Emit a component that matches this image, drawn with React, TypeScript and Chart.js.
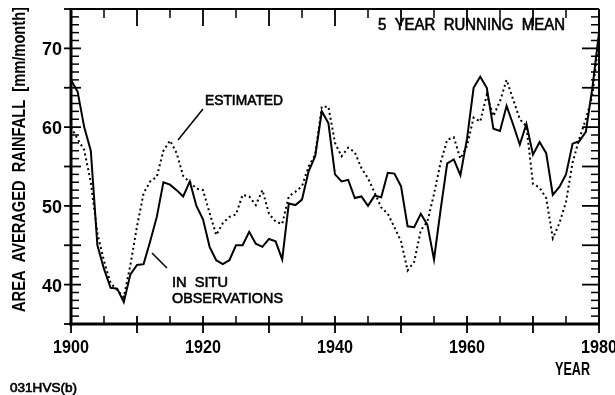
import React, { useEffect, useRef } from "react";
import { Chart, registerables } from "chart.js";

Chart.register(...registerables);

// ---- data ----
const startYear = 1900;
const endYear = 1980;

const inSitu: number[] = [
  66.0, 64.5, 60.0, 57.0, 45.0, 42.0, 39.6, 39.5, 37.8, 41.3,
  42.5, 42.6, 45.5, 48.6, 53.0, 52.7, 52.0, 51.2, 53.1, 50.0,
  48.3, 44.8, 43.1, 42.6, 43.1, 45.0, 45.0, 46.7, 45.2, 44.8,
  45.8, 45.5, 43.2, 50.3, 50.1, 50.8, 54.4, 56.3, 62.0, 60.5,
  54.0, 53.1, 53.3, 51.0, 51.2, 50.0, 51.3, 51.1, 54.2, 54.1,
  52.5, 47.4, 47.3, 49.0, 47.6, 43.2, 49.5, 55.4, 55.9, 53.9,
  58.5, 65.0, 66.4, 65.0, 59.8, 59.5, 62.7, 60.3, 57.8, 60.4,
  56.5, 58.1, 56.7, 51.4, 52.4, 54.0, 57.9, 58.2, 59.4, 65.0,
  72.0,
];

const estimated: number[] = [
  60.0, 58.5, 57.1, 53.0, 46.5, 43.0, 40.2, 39.3, 38.4, 42.5,
  47.4, 51.6, 53.1, 53.7, 57.0, 58.3, 56.7, 53.8, 53.0, 52.2,
  52.0, 49.1, 46.3, 47.8, 48.6, 48.9, 51.4, 51.2, 50.1, 52.0,
  49.0, 48.0, 47.7, 51.2, 51.8, 52.5, 55.0, 56.5, 62.6, 62.6,
  58.0, 56.3, 57.4, 56.8, 54.8, 53.5, 51.7, 49.8, 49.0, 47.3,
  45.5, 41.8, 42.9, 46.9, 48.0, 51.5, 55.5, 58.4, 58.7, 56.0,
  57.6, 61.2, 60.7, 64.1, 61.4, 63.3, 66.0, 63.5, 61.0, 60.1,
  52.8, 52.3, 51.0, 45.9, 47.8, 50.5, 55.5, 58.5, 61.0, 64.0,
  71.5,
];

const xTickLabels = ["1900", "1920", "1940", "1960", "1980"];
const yTickLabels = ["40", "50", "60", "70"];
const yMin = 35;
const yMax = 75;

const years: number[] = [];
for (let y = startYear; y <= endYear; y++) years.push(y);

const FONT = '"Liberation Sans", Arial, Helvetica, sans-serif';

function drawText(
  ctx: CanvasRenderingContext2D,
  s: string,
  x: number,
  y: number,
  size: number,
  bold: boolean,
  width: number,
  align: CanvasTextAlign = "left",
  rotate = false
) {
  ctx.save();
  ctx.font = `${bold ? "bold " : ""}${size}px ${FONT}`;
  const w = ctx.measureText(s).width;
  const sx = width ? width / w : 1;
  ctx.translate(x, y);
  if (rotate) ctx.rotate(-Math.PI / 2);
  ctx.scale(sx, 1);
  ctx.textAlign = align;
  ctx.textBaseline = "alphabetic";
  ctx.fillStyle = "#000";
  ctx.fillText(s, 0, 0);
  if (!bold) {
    ctx.strokeStyle = "#000";
    ctx.lineWidth = 0.6;
    ctx.strokeText(s, 0, 0);
  }
  ctx.restore();
}

function line(ctx: CanvasRenderingContext2D, x1: number, y1: number, x2: number, y2: number, w: number) {
  ctx.beginPath();
  ctx.lineWidth = w;
  ctx.moveTo(x1, y1);
  ctx.lineTo(x2, y2);
  ctx.stroke();
}

const decorPlugin = {
  id: "decor",
  afterDraw(chart: any) {
    const ctx: CanvasRenderingContext2D = chart.ctx;
    const xs = chart.scales.x;
    const ys = chart.scales.y;
    const { left, right, top, bottom } = chart.chartArea;
    ctx.save();
    ctx.strokeStyle = "#000";
    ctx.lineCap = "butt";

    // frame
    line(ctx, left, top - 1, left, bottom + 1.5, 3);
    line(ctx, left - 1.5, bottom, right + 1, bottom, 3);
    line(ctx, left, top, right, top, 2);
    line(ctx, right, top, right, bottom, 2);

    // y ticks (left & right)
    for (let v = yMin; v <= yMax; v++) {
      const py = ys.getPixelForValue(v);
      const major = v % 5 === 0;
      if (major) {
        line(ctx, left - 7, py, left + 10, py, 1.8);
        line(ctx, right - 17, py, right, py, 1.8);
      } else {
        line(ctx, left, py, left + 8, py, 1.5);
        line(ctx, right - 8, py, right, py, 1.5);
      }
    }
    // x ticks (bottom & top)
    for (let yr = startYear; yr <= endYear; yr += 5) {
      const px = xs.getPixelForValue(yr);
      const major = yr % 10 === 0;
      if (major) {
        line(ctx, px, bottom - 8, px, bottom + 9, 1.8);
        line(ctx, px, top, px, top + 17, 1.8);
      } else {
        line(ctx, px, bottom - 8, px, bottom, 1.5);
        line(ctx, px, top, px, top + 9, 1.5);
      }
    }

    // tick labels
    yTickLabels.forEach((t) => {
      const py = ys.getPixelForValue(Number(t));
      drawText(ctx, t, 62, py + 7, 18, true, 20, "right");
    });
    xTickLabels.forEach((t) => {
      const px = xs.getPixelForValue(Number(t));
      drawText(ctx, t, px, 353, 18, true, 36, "center");
    });

    // axis titles
    drawText(ctx, "YEAR", 590, 375, 18, true, 35, "right");
    drawText(ctx, "AREA  AVERAGED  RAINFALL  [mm/month]", 25, 312, 18, true, 305, "left", true);

    // annotations
    drawText(ctx, "5  YEAR  RUNNING  MEAN", 378, 30, 16, false, 187, "left");
    drawText(ctx, "ESTIMATED", 205, 105, 14, false, 78, "left");
    drawText(ctx, "IN  SITU", 172, 287, 15, false, 56, "left");
    drawText(ctx, "OBSERVATIONS", 172, 303, 15, false, 111, "left");
    drawText(ctx, "031HVS(b)", 10, 392, 12, false, 67, "left");

    // leader lines
    line(ctx, 178, 140, 203, 109, 1.5);
    line(ctx, 152, 253, 167, 268, 1.5);

    ctx.restore();
  },
};

export default function App() {
  const ref = useRef<HTMLCanvasElement | null>(null);
  useEffect(() => {
    if (!ref.current) return;
    const chart = new Chart(ref.current, {
      type: "line",
      data: {
        datasets: [
          {
            label: "In situ observations",
            data: years.map((yr, i) => ({ x: yr, y: inSitu[i] })),
            borderColor: "#000",
            borderWidth: 2,
            pointRadius: 0,
            tension: 0,
            fill: false,
          },
          {
            label: "Estimated",
            data: years.map((yr, i) => ({ x: yr, y: estimated[i] })),
            borderColor: "#000",
            borderWidth: 2,
            borderDash: [2, 3],
            pointRadius: 0,
            tension: 0,
            fill: false,
          },
        ],
      },
      options: {
        animation: false,
        responsive: true,
        maintainAspectRatio: false,
        layout: { padding: { top: 9, right: 16, left: 0, bottom: 0 } },
        plugins: { legend: { display: false }, tooltip: { enabled: false } },
        scales: {
          x: {
            type: "linear",
            min: startYear,
            max: endYear,
            ticks: { display: false },
            grid: { display: false },
            border: { display: false },
            afterFit: (s: any) => {
              s.height = 71;
            },
          },
          y: {
            type: "linear",
            min: yMin,
            max: yMax,
            ticks: { display: false },
            grid: { display: false },
            border: { display: false },
            afterFit: (s: any) => {
              s.width = 71;
            },
          },
        },
      },
      plugins: [decorPlugin],
    });
    return () => chart.destroy();
  }, []);
  return (
    <div style={{ position: "absolute", left: 0, top: 0, width: 615, height: 395, background: "#fff" }}>
      <canvas ref={ref} />
    </div>
  );
}
